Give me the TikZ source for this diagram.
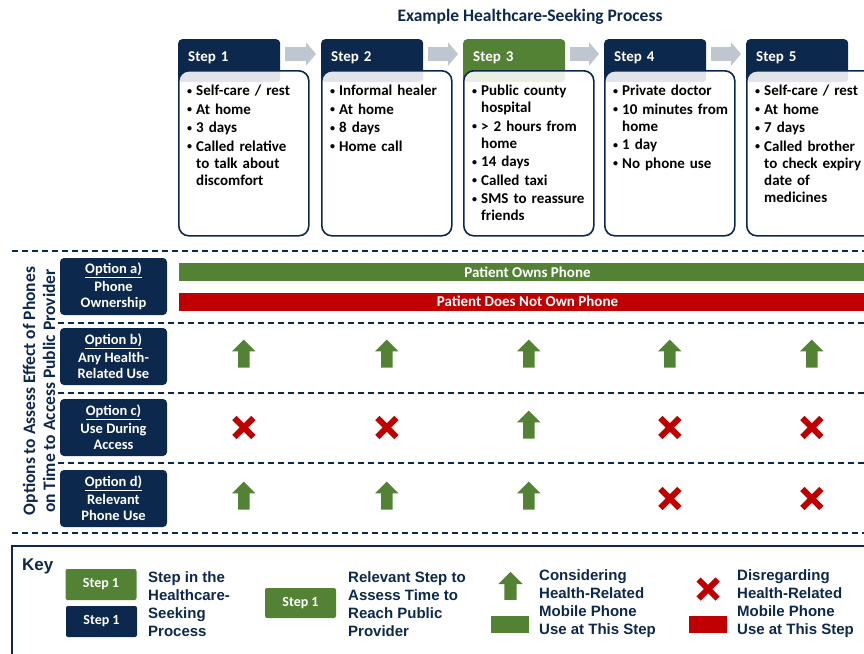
\documentclass[tikz,border=0pt]{standalone}
\usepackage{fontspec}
\setmainfont{Carlito}
\newfontfamily\keyfont{Liberation Sans}
\usetikzlibrary{positioning,calc,arrows.meta,shapes.arrows,shapes.misc}
\definecolor{navy}{RGB}{13,40,77}
\definecolor{phgreen}{RGB}{84,130,53}
\definecolor{phred}{RGB}{192,0,0}
\definecolor{arrowgray}{RGB}{190,198,208}
\newcommand{\bul}[1]{\par\ifdim\prevdepth>-999pt\prevdepth=\dp\strutbox\fi
	\noindent\makebox[9pt][l]{\raisebox{1.5pt}{\fontsize{10}{10}\selectfont\textbullet}}%
	\parbox[t]{114pt}{\raggedright #1\strut}}
\tikzset{
	steptab/.style={fill=navy, rounded corners=4pt, text=white, anchor=north west, align=left,
		text width=82pt, inner xsep=10pt, inner ysep=10pt, text height=12pt, text depth=11pt,
		font=\fontsize{15}{17}\selectfont\bfseries},
	stepbody/.style={draw=navy, line width=1.6pt, fill=white, fill opacity=0.88, rounded corners=10pt,
		minimum width=130pt, minimum height=165pt, anchor=north west},
	steplist/.style={anchor=north west, text width=124pt, align=left, inner sep=0pt,
		font=\fontsize{15}{17}\selectfont\bfseries\setlength{\parskip}{1.5pt}},
	steparrow/.style={arrowgray, line width=14pt, -{Triangle[length=10pt,width=23pt]},
		shorten <=5pt, shorten >=5pt},
	optbox/.style={fill=navy, rounded corners=4pt, text=white, align=center, inner sep=0pt,
		minimum width=107pt, minimum height=57pt, font=\fontsize{14.5}{16}\selectfont\bfseries},
	phonebar/.style={minimum width=697pt, minimum height=18pt, text=white, inner sep=0pt,
		font=\fontsize{15}{15}\selectfont\bfseries},
	upmark/.style={single arrow, fill=phgreen, minimum height=28pt, inner sep=5.5pt,
		single arrow head extend=6pt, shape border rotate=90},
	xmark/.style={cross out, draw=phred, line width=6pt, minimum size=13pt, inner sep=0pt},
	rowline/.style={navy, line width=1.5pt, dash pattern=on 6pt off 4pt},
	keybox/.style={rounded corners=2pt, text=white, minimum width=71pt, minimum height=31pt,
		inner sep=0pt, font=\fontsize{14}{16}\selectfont\bfseries},
	keytext/.style={anchor=west, align=left, text=navy, inner sep=0pt,
		font=\keyfont\fontsize{15}{18}\selectfont\bfseries}
}

\begin{document}
\begin{tikzpicture}[x=1pt, y=-1pt]
	\clip (0,0) rectangle (864,653);

	% title
	\node[text=navy, font=\fontsize{17.5}{20}\selectfont\bfseries] (title) at (530,17) {Example Healthcare-Seeking Process};

	% steps of the process
	\node[steptab] (tab1) at (178,39) {Step 1};
	\node[steptab] (tab2) at (321,39) {Step 2};
	\node[steptab, fill=phgreen] (tab3) at (463,39) {Step 3};
	\node[steptab] (tab4) at (604,39) {Step 4};
	\node[steptab] (tab5) at (746,39) {Step 5};

	\node[stepbody] (body1) at (178,70) {};
	\node[stepbody] (body2) at (321,70) {};
	\node[stepbody] (body3) at (463,70) {};
	\node[stepbody] (body4) at (604,70) {};
	\node[stepbody] (body5) at (746,70) {};

	\node[steplist] (list1) at ([xshift=9pt,yshift=-12pt]body1.north west)
		{\bul{Self-care / rest} \bul{At home} \bul{3 days} \bul{Called relative\\to talk about\\discomfort}};
	\node[steplist] (list2) at ([xshift=9pt,yshift=-12pt]body2.north west)
		{\bul{Informal healer} \bul{At home} \bul{8 days} \bul{Home call}};
	\node[steplist] (list3) at ([xshift=9pt,yshift=-12pt]body3.north west)
		{\bul{Public county\\hospital} \bul{> 2 hours from\\home} \bul{14 days} \bul{Called taxi} \bul{SMS to reassure\\friends}};
	\node[steplist] (list4) at ([xshift=9pt,yshift=-12pt]body4.north west)
		{\bul{Private doctor} \bul{10 minutes from\\home} \bul{1 day} \bul{No phone use}};
	\node[steplist] (list5) at ([xshift=9pt,yshift=-12pt]body5.north west)
		{\bul{Self-care / rest} \bul{At home} \bul{7 days} \bul{Called brother\\to check expiry\\date of\\medicines}};

	\draw[steparrow] ([yshift=-15pt]tab1.north east) -- ([yshift=-15pt]tab2.north west);
	\draw[steparrow] ([yshift=-15pt]tab2.north east) -- ([yshift=-15pt]tab3.north west);
	\draw[steparrow] ([yshift=-15pt]tab3.north east) -- ([yshift=-15pt]tab4.north west);
	\draw[steparrow] ([yshift=-15pt]tab4.north east) -- ([yshift=-15pt]tab5.north west);

	% option rows
	\draw[rowline] (12,251) -- (864,251);
	\draw[rowline] (58,323) -- (864,323);
	\draw[rowline] (58,393) -- (864,393);
	\draw[rowline] (58,463) -- (864,463);
	\draw[rowline] (12,533) -- (864,533);

	\node[rotate=90, align=center, text=navy, font=\fontsize{17.5}{20}\selectfont\bfseries] (side) at (39,391)
		{Options to Assess Effect of Phones\\on Time to Access Public Provider};

	\node[optbox] (opta) at (113.5,286.5) {\underline{Option a)}\\[2pt]Phone\\Ownership};
	\node[optbox] (optb) at (113.5,356.5) {\underline{Option b)}\\[2pt]Any Health-\\Related Use};
	\node[optbox] (optc) at (113.5,427.5) {\underline{Option c)}\\[2pt]Use During\\Access};
	\node[optbox] (optd) at (113.5,498.5) {\underline{Option d)}\\[2pt]Relevant\\Phone Use};

	\node[phonebar, fill=phgreen] (owns) at (527.5,272) {Patient Owns Phone};
	\node[phonebar, fill=phred] (notown) at (527.5,301.5) {Patient Does Not Own Phone};

	\node[upmark] (b1) at (body1 |- optb) {};
	\node[upmark] (b2) at (body2 |- optb) {};
	\node[upmark] (b3) at (body3 |- optb) {};
	\node[upmark] (b4) at (body4 |- optb) {};
	\node[upmark] (b5) at (body5 |- optb) {};

	\node[xmark] (c1) at (body1 |- optc) {};
	\node[xmark] (c2) at (body2 |- optc) {};
	\node[upmark] (c3) at (body3 |- optc) {};
	\node[xmark] (c4) at (body4 |- optc) {};
	\node[xmark] (c5) at (body5 |- optc) {};

	\node[upmark] (d1) at (body1 |- optd) {};
	\node[upmark] (d2) at (body2 |- optd) {};
	\node[upmark] (d3) at (body3 |- optd) {};
	\node[xmark] (d4) at (body4 |- optd) {};
	\node[xmark] (d5) at (body5 |- optd) {};

	% key
	\draw[navy, line width=1.5pt] (12,546) rectangle (880,680);
	\node[anchor=west, inner sep=0pt, text=navy, font=\keyfont\fontsize{17}{17}\selectfont\bfseries] (key) at (22,566) {Key};

	\node[keybox, fill=phgreen] (keygreen) at (101,584.5) {Step 1};
	\node[keybox, fill=navy] (keynavy) at (101.5,621.5) {Step 1};
	\node[keytext] (keystep) at (148,604) {Step in the\\Healthcare-\\Seeking\\Process};

	\node[keybox, fill=phgreen, minimum height=30pt] (keyrel) at (300.5,603) {Step 1};
	\node[keytext] (keyreltext) at (348,604) {Relevant Step to\\Assess Time to\\Reach Public\\Provider};

	\node[upmark, inner sep=6pt] (keyup) at (510.5,589) {};
	\node[fill=phgreen, minimum width=38pt, minimum height=17pt, inner sep=0pt] (keybarg) at (510,624.5) {};
	\node[keytext] (keyuptext) at (539,604) {Considering\\Health-Related\\Mobile Phone\\Use at This Step};

	\node[xmark] (keyx) at (708,589) {};
	\node[fill=phred, minimum width=38pt, minimum height=17pt, inner sep=0pt] (keybarr) at (708,624.5) {};
	\node[keytext] (keyxtext) at (737,604) {Disregarding\\Health-Related\\Mobile Phone\\Use at This Step};
\end{tikzpicture}
\end{document}
